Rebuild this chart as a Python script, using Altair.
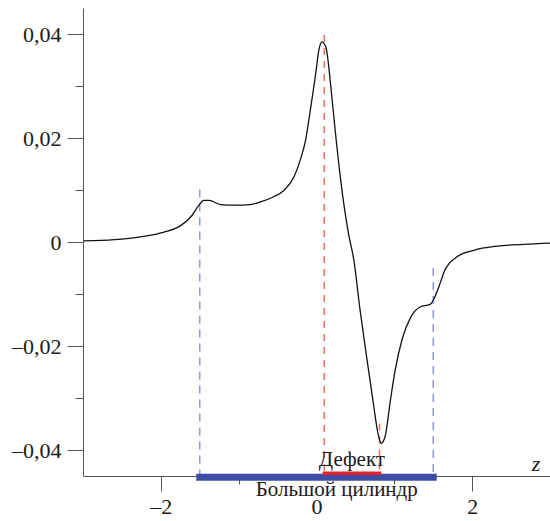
import altair as alt
import pandas as pd

# Profile along the z axis
z_vals = [-2.99, -2.60, -2.26, -1.96, -1.74, -1.60, -1.51, -1.45, -1.38, -1.23,
          -1.06, -0.85, -0.72, -0.55, -0.42, -0.29, -0.21, -0.14, -0.08, -0.01,
          0.03, 0.07, 0.12, 0.19, 0.24, 0.31, 0.41, 0.48, 0.56, 0.65,
          0.73, 0.79, 0.83, 0.88, 0.95, 1.01, 1.10, 1.21, 1.33, 1.46,
          1.50, 1.57, 1.65, 1.80, 2.02, 2.32, 2.66, 3.00]
f_vals = [0.0002, 0.00046, 0.0010, 0.0019, 0.0032, 0.0051, 0.0071, 0.0080, 0.0080, 0.0072,
          0.0071, 0.0072, 0.0077, 0.0087, 0.0099, 0.0125, 0.0157, 0.0196, 0.0253, 0.0324,
          0.0369, 0.0385, 0.0375, 0.0290, 0.0215, 0.0120, 0.0017, -0.0035, -0.0131, -0.0227,
          -0.0310, -0.0368, -0.0387, -0.0375, -0.0304, -0.0247, -0.0187, -0.0145, -0.0125, -0.0120,
          -0.0112, -0.0087, -0.0054, -0.0029, -0.0016, -0.0008, -0.00044, -0.0002]

# Large cylinder and defect extents
cyl_start, cyl_end = -1.5, 1.5
def_start, def_end = 0.1, 0.81

# Vertical guide lines: position, top, bottom
blue_z = [cyl_start, cyl_end]
blue_top = [0.0101, -0.0050]
red_z = [def_start, def_end]
red_top = [0.0398, -0.0349]
red_bottom = [-0.045, -0.0444]

X_DOM = [-3, 3]
Y_DOM = [-0.045, 0.045]
FONT = "Liberation Serif"
DASH = "\u2013"

xs = alt.Scale(domain=X_DOM, nice=False, zero=False)
ys = alt.Scale(domain=Y_DOM, nice=False, zero=False)

curve_df = pd.DataFrame({"z": z_vals, "f": f_vals})

x_axis = alt.Axis(
    values=[-2, -1, 0, 1, 2],
    grid=False, title=None,
    domainColor="#555555", tickColor="#555555",
    tickSize={"condition": {"test": "datum.value % 2 == 0", "value": 15}, "value": 8},
    tickOpacity={"condition": {"test": "datum.value == 0", "value": 0}, "value": 1},
    labelExpr=f"datum.value % 2 == 0 ? (datum.value < 0 ? '{DASH}' : '') + format(abs(datum.value), 'd') : ''",
    labelFont=FONT, labelFontSize=22, labelColor="#1a1a1a", labelPadding=5,
)
y_axis = alt.Axis(
    values=[-0.04, -0.03, -0.02, -0.01, 0, 0.01, 0.02, 0.03, 0.04],
    grid=False, title=None,
    domainColor="#555555", tickColor="#555555",
    tickSize={"condition": {"test": "abs(round(datum.value*100)) % 2 == 0", "value": 16}, "value": 8},
    labelExpr=f"abs(round(datum.value*100)) % 2 == 0 ? "
              f"(datum.value < 0 ? '{DASH}' : '') + replace(format(abs(datum.value), '.2~f'), '.', ',') : ''",
    labelFont=FONT, labelFontSize=22, labelColor="#1a1a1a", labelPadding=6,
)

curve = alt.Chart(curve_df).mark_line(
    color="#111111", strokeWidth=1.3, interpolate="monotone"
).encode(
    x=alt.X("z:Q", scale=xs, axis=x_axis),
    y=alt.Y("f:Q", scale=ys, axis=y_axis),
)

blue_df = pd.DataFrame({"z": blue_z, "top": blue_top, "bottom": [-0.045, -0.045]})
blue_guides = alt.Chart(blue_df).mark_rule(
    color="#8d96d8", strokeWidth=1.5, strokeDash=[8, 6]
).encode(x=alt.X("z:Q", scale=xs), y=alt.Y("top:Q", scale=ys), y2="bottom:Q")

red_df = pd.DataFrame({"z": red_z, "top": red_top, "bottom": red_bottom})
red_guides = alt.Chart(red_df).mark_rule(
    color="#f0705e", strokeWidth=1.5, strokeDash=[7, 6]
).encode(x=alt.X("z:Q", scale=xs), y=alt.Y("top:Q", scale=ys), y2="bottom:Q")

cyl_df = pd.DataFrame({"z1": [cyl_start], "z2": [cyl_end], "y": [-0.04526]})
cyl_bar = alt.Chart(cyl_df).mark_rule(
    color="#3c4da3", strokeWidth=7, strokeCap="square"
).encode(x=alt.X("z1:Q", scale=xs), x2="z2:Q", y=alt.Y("y:Q", scale=ys))

def_df = pd.DataFrame({"z1": [def_start], "z2": [def_end], "y": [-0.04445]})
def_bar = alt.Chart(def_df).mark_rule(
    color="#e3202b", strokeWidth=3.5, strokeCap="square"
).encode(x=alt.X("z1:Q", scale=xs), x2="z2:Q", y=alt.Y("y:Q", scale=ys))

labels_df = pd.DataFrame({
    "z": [(def_start + def_end) / 2, 0.26],
    "y": [-0.0431, -0.0488],
    "text": ["Дефект", "Большой цилиндр"],
})
labels = alt.Chart(labels_df).mark_text(
    font=FONT, fontSize=21, color="#1a1a1a", align="center", baseline="alphabetic"
).encode(x=alt.X("z:Q", scale=xs), y=alt.Y("y:Q", scale=ys), text="text:N")

zlab_df = pd.DataFrame({"z": [2.82], "y": [-0.0441], "text": ["z"]})
zlab = alt.Chart(zlab_df).mark_text(
    font=FONT, fontSize=22, fontStyle="italic", color="#1a1a1a",
    align="center", baseline="alphabetic"
).encode(x=alt.X("z:Q", scale=xs), y=alt.Y("y:Q", scale=ys), text="text:N")

chart = alt.layer(
    blue_guides, red_guides, cyl_bar, def_bar, curve, labels, zlab
).properties(
    width=467, height=468,
    autosize=alt.AutoSizeParams(type="none"),
    padding={"left": 83, "top": 8, "right": 0, "bottom": 45},
    background="white",
).configure_view(stroke=None)

chart.save("out.html", embed_options={"renderer": "svg", "actions": False})
